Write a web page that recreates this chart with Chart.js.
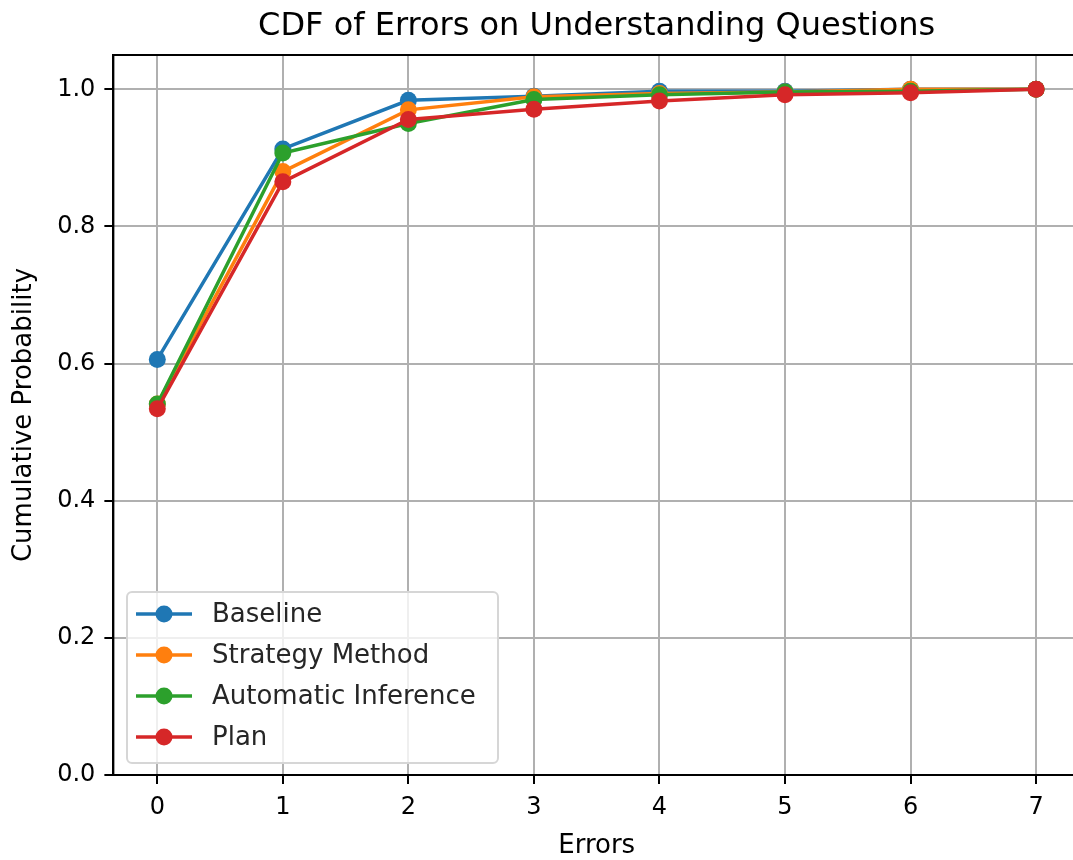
<!DOCTYPE html>
<html>
<head>
<meta charset="utf-8">
<script src="https://cdn.jsdelivr.net/npm/chart.js@4.4.1/dist/chart.umd.min.js"></script>
<style>
    html, body { margin: 0; padding: 0; background: #fff; overflow: hidden; }
    #wrap { width: 1090px; height: 860px; }
</style>
</head>
<body>
<div id="wrap"><canvas id="cdf" width="1090" height="860"></canvas></div>
<script>
const errors = [0, 1, 2, 3, 4, 5, 6, 7];
const yTicks = [0, 0.2, 0.4, 0.6, 0.8, 1.0];
const seriesNames = ['Baseline', 'Strategy Method', 'Automatic Inference', 'Plan'];
const baseline = [0.606, 0.913, 0.984, 0.990, 0.997, 0.997, 1.0, 1.0];
const strategyMethod = [0.541, 0.880, 0.970, 0.989, 0.994, 0.996, 1.0, 1.0];
const automaticInference = [0.541, 0.907, 0.950, 0.985, 0.992, 0.996, 0.997, 1.0];
const plan = [0.534, 0.865, 0.956, 0.971, 0.983, 0.992, 0.995, 1.0];
const colors = ['#1f77b4', '#ff7f0e', '#2ca02c', '#d62728'];
const titleText = 'CDF of Errors on Understanding Questions';

const font = "'DejaVu Sans', sans-serif";

function makeSet(i, values) {
    return {
        label: seriesNames[i],
        data: values.map((v, k) => ({ x: errors[k], y: v })),
        borderColor: colors[i],
        backgroundColor: colors[i],
        borderWidth: 3.5,
        pointRadius: 8.5,
        pointHoverRadius: 8.5,
        pointBorderWidth: 0,
        tension: 0,
        order: 4 - i // keep plan on top like matplotlib
    };
}

// full box around the plot + title centred over the axes
const frame = {
    id: 'frame',
    afterDraw(chart) {
        const a = chart.chartArea, c = chart.ctx;
        c.save();
        c.strokeStyle = '#000';
        c.lineWidth = 2;
        c.strokeRect(a.left, a.top, a.right - a.left, a.bottom - a.top);
        c.fillStyle = '#000';
        c.font = '32px ' + font;
        c.textAlign = 'center';
        c.textBaseline = 'middle';
        c.fillText(titleText, (a.left + a.right) / 2, 27);
        c.restore();
    }
};

// legend inside the axes, lower left
const innerLegend = {
    id: 'innerLegend',
    afterDatasetsDraw(chart) {
        const c = chart.ctx;
        const x0 = 127, y0 = 592, w = 371, h = 171;
        c.save();
        c.fillStyle = 'rgba(255,255,255,0.8)';
        c.strokeStyle = '#d6d6d6';
        c.lineWidth = 2;
        c.beginPath();
        c.roundRect(x0, y0, w, h, 5);
        c.fill();
        c.stroke();
        c.font = '26px ' + font;
        c.textBaseline = 'middle';
        chart.data.datasets.forEach((ds, i) => {
            const y = 614 + i * 41;
            c.strokeStyle = ds.borderColor;
            c.lineWidth = 3.5;
            c.beginPath();
            c.moveTo(136, y);
            c.lineTo(192, y);
            c.stroke();
            c.fillStyle = ds.borderColor;
            c.beginPath();
            c.arc(164, y, 8.5, 0, Math.PI * 2);
            c.fill();
            c.fillStyle = '#262626';
            c.fillText(ds.label, 212, y + 1);
        });
        c.restore();
    }
};

new Chart(document.getElementById('cdf'), {
    type: 'line',
    data: {
        datasets: [
            makeSet(0, baseline),
            makeSet(1, strategyMethod),
            makeSet(2, automaticInference),
            makeSet(3, plan)
        ]
    },
    options: {
        responsive: false,
        animation: false,
        layout: { padding: { left: 9, right: 10, top: 55, bottom: -2 } },
        scales: {
            x: {
                type: 'linear',
                min: -0.35,
                max: 7.35,
                afterBuildTicks: axis => { axis.ticks = errors.map(v => ({ value: v })); },
                ticks: {
                    color: '#000',
                    font: { family: font, size: 24 },
                    padding: 9,
                    maxRotation: 0,
                    callback: v => String(v)
                },
                grid: { color: '#b0b0b0', lineWidth: 2, tickLength: 9, tickColor: '#000', tickWidth: 2 },
                border: { color: '#000', width: 2 },
                title: {
                    display: true,
                    text: 'Errors',
                    color: '#000',
                    font: { family: font, size: 26 },
                    padding: { top: 0, bottom: 0 }
                }
            },
            y: {
                min: 0,
                max: 1.05,
                afterBuildTicks: axis => { axis.ticks = yTicks.map(v => ({ value: v })); },
                ticks: {
                    color: '#000',
                    font: { family: font, size: 24 },
                    padding: 9,
                    callback: v => v.toFixed(1)
                },
                grid: { color: '#b0b0b0', lineWidth: 2, tickLength: 9, tickColor: '#000', tickWidth: 2 },
                border: { color: '#000', width: 2 },
                title: {
                    display: true,
                    text: 'Cumulative Probability',
                    color: '#000',
                    font: { family: font, size: 26 },
                    padding: { top: 0, bottom: 8 }
                }
            }
        },
        plugins: {
            legend: { display: false },
            tooltip: { enabled: false },
            title: { display: false }
        }
    },
    plugins: [frame, innerLegend]
});
</script>
</body>
</html>
